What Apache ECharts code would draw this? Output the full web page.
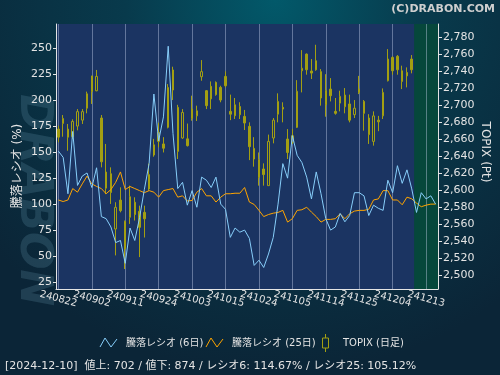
<!DOCTYPE html>
<html>
<head>
<meta charset="utf-8">
<script src="https://cdn.jsdelivr.net/npm/echarts@6/dist/echarts.min.js"></script>
<style>
  html, body { margin: 0; padding: 0; background: #0b2a3c; }
  #chart { width: 500px; height: 375px; }
</style>
</head>
<body>
<div id="chart"></div>
<script>
// trading days (yymmdd), the last five are the green "future" zone
const dates = [
  '240822', '240823', '240826', '240827', '240828', '240829', '240830',
  '240902', '240903', '240904', '240905', '240906', '240909', '240910',
  '240911', '240912', '240913', '240917', '240918', '240919', '240920',
  '240924', '240925', '240926', '240927', '240930', '241001', '241002',
  '241003', '241004', '241007', '241008', '241009', '241010', '241011',
  '241015', '241016', '241017', '241018', '241021', '241022', '241023',
  '241024', '241025', '241028', '241029', '241030', '241031', '241101',
  '241105', '241106', '241107', '241108', '241111', '241112', '241113',
  '241114', '241115', '241118', '241119', '241120', '241121', '241122',
  '241125', '241126', '241127', '241128', '241129', '241202', '241203',
  '241204', '241205', '241206', '241209', '241210', '241211', '241212',
  '241213', '241216', '241217'
]

// 騰落レシオ 6日
const ratio6 = [
  151, 145, 110, 170, 118, 127, 130, 116, 135, 88,
  86, 78, 63, 65, 43, 77, 65, 87, 114, 139,
  206, 161, 184, 252, 168, 115, 121, 99, 113, 97,
  126, 123, 116, 126, 100, 95, 68, 77, 73, 75,
  67, 41, 46, 39, 52, 68, 100, 139, 125, 166,
  147, 140, 126, 105, 131, 110, 86, 75, 78, 91,
  83, 89, 111, 111, 108, 89, 99, 96, 94, 123,
  111, 137, 120, 133, 114.67, 92, 111, 105, 108, 100
]

// 騰落レシオ 25日
const ratio25 = [
  104, 102.5, 104, 115, 111.5, 119.5, 127, 119.5, 117, 115,
  110, 114, 121, 131, 114, 117, 115, 113, 111, 113,
  111.5, 106.7, 113, 114, 115, 106.7, 108, 103, 103.5, 111.5,
  115, 108, 108, 102, 106.7, 110, 110, 110.5, 110.5, 116,
  102, 99.7, 94, 88, 90, 91.3, 92, 94, 82.7, 86,
  94, 94.6, 97, 92.3, 88, 82.7, 85.3, 85.3, 86, 90.7,
  86, 90.7, 93.3, 94, 94, 95, 104, 105, 113, 113,
  104, 104, 99.4, 106.7, 105.12, 101, 97.5, 99, 100, 100
]

// TOPIX daily [open, close, low, high]
const topix = [
  [2671.5, 2662, 2656, 2675.5], [2678, 2684, 2662.5, 2688], [2671.5, 2662, 2646, 2677.5],
  [2662.5, 2680.5, 2660, 2683], [2675, 2692, 2670, 2695], [2682, 2692, 2677.5, 2695],
  [2696, 2713, 2690, 2715.5], [2734, 2715.5, 2701, 2734], [2716.5, 2733.4, 2716, 2741],
  [2684.5, 2633, 2626.5, 2688], [2602, 2621, 2595, 2654], [2619, 2597, 2583.5, 2626.5],
  [2554, 2579.5, 2523, 2585.5], [2588, 2575.6, 2573.6, 2603], [2563, 2530.6, 2507, 2564],
  [2567.8, 2592, 2560, 2605], [2585.5, 2571, 2564, 2591.3], [2574.8, 2556, 2521, 2581.5],
  [2573.6, 2566, 2544, 2581.5], [2601, 2618, 2599, 2631], [2653, 2641, 2639, 2660],
  [2657, 2667.6, 2650, 2679], [2654, 2649, 2644, 2662], [2673.5, 2720.5, 2672.3, 2724.4],
  [2717.4, 2741, 2705.6, 2744.8], [2697, 2645.3, 2636.3, 2700], [2661, 2691, 2660, 2695],
  [2660, 2652, 2651, 2678], [2695, 2684, 2681.3, 2710.7], [2687, 2693, 2681, 2699],
  [2733, 2739, 2728.3, 2752.6], [2716.6, 2699, 2695, 2717.4], [2721.7, 2707, 2695, 2727.5],
  [2726.4, 2712, 2710.7, 2727.5], [2720.5, 2705.6, 2703, 2722.4], [2733.4, 2722.4, 2720.5, 2739.3],
  [2692.3, 2689, 2682, 2712], [2700, 2687.2, 2683.3, 2708], [2698, 2688.4, 2683.3, 2703],
  [2686.4, 2678.6, 2670.4, 2694], [2674.7, 2650.8, 2635, 2679.4], [2648.8, 2636.3, 2627.3, 2662],
  [2635.5, 2614.8, 2605, 2644], [2624.6, 2618, 2605, 2631.2], [2605, 2657, 2605, 2665],
  [2661, 2682, 2654.7, 2684.5], [2689, 2704, 2679.4, 2713.5], [2697, 2695, 2679.4, 2703],
  [2659.8, 2644, 2636.3, 2671.5], [2656, 2663.7, 2654, 2671.5], [2673.5, 2716, 2672.7, 2729],
  [2740, 2743, 2714.6, 2764.3], [2759.6, 2741.2, 2735.4, 2760.4], [2739.7, 2737.3, 2730.3, 2753.8],
  [2751.8, 2741.2, 2740, 2770.6], [2739, 2708, 2699, 2742], [2716.6, 2700, 2686, 2736],
  [2718.5, 2710.7, 2704, 2731.4], [2692.3, 2690, 2688.4, 2708], [2702, 2710, 2692.3, 2716.6],
  [2711.5, 2697.8, 2690, 2719.7], [2701, 2682, 2679.4, 2712], [2688.4, 2696, 2684.5, 2705.6],
  [2718.5, 2714.6, 2712.6, 2734], [2704, 2690, 2669.6, 2705.6], [2684.5, 2665, 2654, 2689],
  [2657, 2687, 2652, 2692.3], [2682, 2680, 2669, 2687], [2687, 2714.6, 2683.3, 2719.3],
  [2728.3, 2753.8, 2727.5, 2765.5], [2755.7, 2740, 2735.4, 2757], [2757, 2741.2, 2735.4, 2758.5],
  [2740, 2727.5, 2718.5, 2746], [2738, 2734, 2720.5, 2744], [2753.8, 2741.2, 2737, 2758.5]
]

const leftTicks = [25, 50, 75, 100, 125, 150, 175, 200, 225, 250]
const rightTicks = [2500, 2520, 2540, 2560, 2580, 2600, 2620, 2640, 2660, 2680, 2700, 2720, 2740, 2760, 2780]

const lastDate = '2024-12-10'
const advances = 702
const declines = 874

const FONT = '"DejaVu Sans", "Noto Sans CJK JP", sans-serif'
const TEXT = '#e4e4e4'
const GRIDLINE = 'rgba(200,210,235,0.42)'
const CANDLE = '#a39f12'
const LABEL_EVERY = 7

const G = { left: 56, right: 62, top: 24, bottom: 86 }
const W = 500, H = 375

const chart = echarts.init(document.getElementById('chart'))

const isLabelDay = (i) => i % LABEL_EVERY === 0 && i < 78
const dateGrid = dates.filter((d, i) => isLabelDay(i)).map(d => ({ xAxis: d }))

const option = {
  animation: false,
  textStyle: { fontFamily: FONT },
  grid: { left: G.left, right: G.right, top: G.top, bottom: G.bottom, outerBoundsMode: 'none', containLabel: false },
  xAxis: {
    type: 'category',
    data: dates,
    boundaryGap: true,
    axisLine: { lineStyle: { color: TEXT, width: 1 } },
    axisTick: { interval: isLabelDay, alignWithLabel: true, length: 3, lineStyle: { color: TEXT } },
    axisLabel: {
      // every category gets a label slot, only the weekly ones carry text
      interval: 0,
      formatter: (v, i) => (isLabelDay(i) ? v : ''),
      rotate: -15, align: 'center', verticalAlign: 'middle',
      margin: 10, color: TEXT, fontSize: 10, hideOverlap: false
    },
    splitLine: { show: false }
  },
  yAxis: [
    {
      type: 'value', position: 'left', min: 18.3, max: 273.4,
      axisLine: { show: true, lineStyle: { color: TEXT } },
      axisTick: { show: true, length: 3, customValues: leftTicks, lineStyle: { color: TEXT } },
      axisLabel: { customValues: leftTicks, margin: 4, color: TEXT, fontSize: 11 },
      splitLine: { show: true, lineStyle: { color: GRIDLINE } }
    },
    {
      type: 'value', position: 'right', min: 2483.5, max: 2795,
      axisLine: { show: true, lineStyle: { color: TEXT } },
      axisTick: { show: true, length: 4, customValues: rightTicks, lineStyle: { color: TEXT } },
      axisLabel: {
        customValues: rightTicks, margin: 5, color: TEXT, fontSize: 11,
        formatter: v => v.toLocaleString('en-US')
      },
      splitLine: { show: false }
    }
  ],
  series: [
    {
      name: 'TOPIX (日足)',
      type: 'candlestick',
      yAxisIndex: 1,
      barWidth: 2,
      data: topix,
      itemStyle: {
        color: 'rgba(0,0,0,0)',
        color0: CANDLE,
        borderColor: CANDLE,
        borderColor0: CANDLE,
        borderWidth: 1
      },
      // vertical grid lines on the labelled dates
      markLine: {
        silent: true,
        symbol: 'none',
        label: { show: false },
        lineStyle: { color: GRIDLINE, type: 'solid', width: 1 },
        data: dateGrid,
        z: 1
      },
      z: 2
    },
    {
      name: '騰落レシオ (25日)',
      type: 'line',
      data: ratio25,
      showSymbol: false,
      lineStyle: { color: '#ffa500', width: 1 },
      itemStyle: { color: '#ffa500' },
      z: 3
    },
    {
      name: '騰落レシオ (6日)',
      type: 'line',
      data: ratio6,
      showSymbol: false,
      lineStyle: { color: '#87cefa', width: 1 },
      itemStyle: { color: '#87cefa' },
      z: 4
    }
  ]
}

chart.setOption(option)

// plot background + green zone after the last candle, located through the x axis
const plotW = W - G.left - G.right
const plotH = H - G.top - G.bottom
const lastIdx = topix.length - 1
const cLast = chart.convertToPixel({ xAxisIndex: 0 }, lastIdx)
const cNext = chart.convertToPixel({ xAxisIndex: 0 }, lastIdx + 1)
const zoneX = (cLast + cNext) / 2
const zoneW = G.left + plotW - zoneX

const legendY = 343
const blue = '#87cefa', orange = '#ffa500'

const footer = `[${lastDate}]  値上: ${advances} / 値下: ${declines} / レシオ6: ${ratio6[lastIdx].toFixed(2)}% / レシオ25: ${ratio25[lastIdx].toFixed(2)}%`

chart.setOption({
  graphic: [
    {
      type: 'rect', z: -10, silent: true,
      shape: { x: 0, y: 0, width: W, height: H },
      style: {
        fill: new echarts.graphic.RadialGradient(0.55, 0, 1.0, [
          { offset: 0, color: '#02596a' },
          { offset: 0.4, color: '#083a4c' },
          { offset: 1, color: '#0b2537' }
        ])
      }
    },
    {
      type: 'text', z: -9, silent: true, x: 32, y: 200, rotation: -Math.PI / 2,
      style: {
        text: 'DRABON', fill: 'rgba(110,160,180,0.22)',
        font: 'italic bold 44px "DejaVu Sans", sans-serif',
        textAlign: 'center', textVerticalAlign: 'middle'
      }
    },
    {
      type: 'group', z: -5, silent: true,
      children: [
        { type: 'rect', shape: { x: G.left, y: G.top, width: plotW, height: plotH }, style: { fill: '#1b3462' } },
        { type: 'rect', shape: { x: zoneX, y: G.top, width: zoneW, height: plotH }, style: { fill: '#06473b' } }
      ]
    },
    {
      type: 'text', x: 495, y: 9,
      style: {
        text: '(C)DRABON.COM', fill: '#cfcfcf', font: 'bold 11px "DejaVu Sans", sans-serif',
        textAlign: 'right', textVerticalAlign: 'middle'
      }
    },
    {
      type: 'text', x: 18, y: 166, rotation: Math.PI / 2,
      style: {
        text: '騰落レシオ (%)', fill: TEXT, font: '12px ' + FONT,
        textAlign: 'center', textVerticalAlign: 'middle'
      }
    },
    {
      type: 'text', x: 485, y: 152, rotation: -Math.PI / 2,
      style: {
        text: 'TOPIX (Pt)', fill: TEXT, font: '12px ' + FONT,
        textAlign: 'center', textVerticalAlign: 'middle'
      }
    },
    // legend
    {
      type: 'polyline',
      shape: { points: [[100, legendY + 4], [105, legendY - 5], [111, legendY + 4], [117, legendY - 4]] },
      style: { stroke: blue, fill: null, lineWidth: 1 }
    },
    {
      type: 'text', x: 126, y: legendY,
      style: { text: '騰落レシオ (6日)', fill: TEXT, font: '10px ' + FONT, textVerticalAlign: 'middle' }
    },
    {
      type: 'polyline',
      shape: { points: [[206, legendY + 4], [211, legendY - 5], [217, legendY + 4], [223, legendY - 4]] },
      style: { stroke: orange, fill: null, lineWidth: 1 }
    },
    {
      type: 'text', x: 232, y: legendY,
      style: { text: '騰落レシオ (25日)', fill: TEXT, font: '10px ' + FONT, textVerticalAlign: 'middle' }
    },
    {
      type: 'group',
      children: [
        { type: 'line', shape: { x1: 325.5, y1: legendY - 9, x2: 325.5, y2: legendY - 5 }, style: { stroke: CANDLE, lineWidth: 1 } },
        { type: 'rect', shape: { x: 322.5, y: legendY - 5, width: 6, height: 10 }, style: { stroke: CANDLE, fill: null, lineWidth: 1 } },
        { type: 'line', shape: { x1: 325.5, y1: legendY + 5, x2: 325.5, y2: legendY + 9 }, style: { stroke: CANDLE, lineWidth: 1 } }
      ]
    },
    {
      type: 'text', x: 343, y: legendY,
      style: { text: 'TOPIX (日足)', fill: TEXT, font: '10px ' + FONT, textVerticalAlign: 'middle' }
    },
    {
      type: 'text', x: 5, y: 366,
      style: { text: footer, fill: TEXT, font: '11px ' + FONT, textVerticalAlign: 'middle' }
    }
  ]
})
</script>
</body>
</html>
